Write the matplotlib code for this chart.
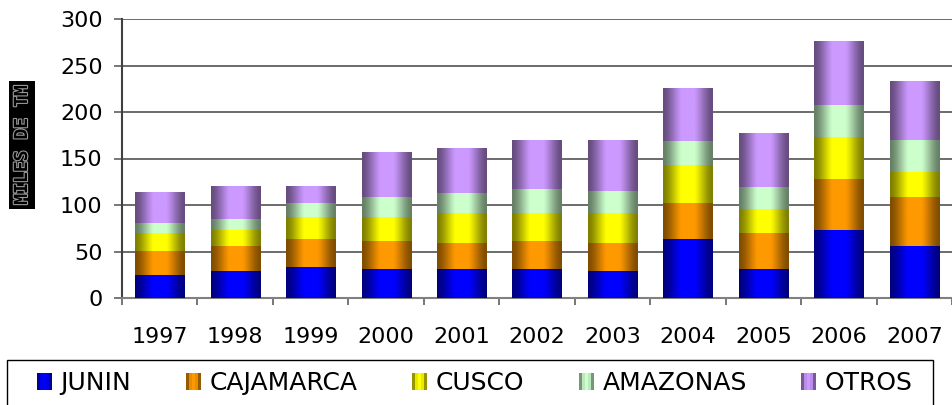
import numpy as np
import matplotlib
matplotlib.use("Agg")
import matplotlib.pyplot as plt
from matplotlib.patches import Rectangle
from matplotlib.legend_handler import HandlerBase
import matplotlib.patheffects as pe

# produccion por region, miles de TM
years = ['1997', '1998', '1999', '2000', '2001', '2002',
         '2003', '2004', '2005', '2006', '2007']
junin = [25, 29, 33, 31, 31, 31, 29, 63, 31, 73, 56]
cajamarca = [26, 27, 30, 30, 28, 30, 30, 39, 39, 55, 53]
cusco = [19, 17.5, 24, 26, 32, 30, 32, 41, 26, 45, 26]
amazonas = [11, 11.5, 15, 22, 22, 26, 24, 26, 23, 35, 35]
otros = [33, 35.5, 18, 48, 48, 53, 55, 57, 58, 68, 63]

series = [('JUNIN', junin, '#0000ff'),
          ('CAJAMARCA', cajamarca, '#ff9900'),
          ('CUSCO', cusco, '#ffff00'),
          ('AMAZONAS', amazonas, '#ccffcc'),
          ('OTROS', otros, '#cc99ff')]


def shade(t):
    # brillo tipo cilindro: oscuro en los bordes, claro al centro
    return 0.5 + 0.5 * np.minimum(1.0, 1.1 * np.sin(np.pi * t)) ** 1.6


def rgb(hexcol):
    return np.array(matplotlib.colors.to_rgb(hexcol))


class GradHandler(HandlerBase):
    def create_artists(self, legend, orig_handle, xdescent, ydescent,
                       width, height, fontsize, trans):
        base = rgb(orig_handle.get_facecolor())
        n = 5
        arts = []
        for i in range(n):
            f = shade((i + 0.5) / n)
            arts.append(Rectangle((-xdescent + i * width / n, -ydescent),
                                  width / n, height, facecolor=base * f,
                                  edgecolor='none', transform=trans))
        return arts


fig = plt.figure(figsize=(9.53, 4.05), dpi=100)
ax = fig.add_axes([122 / 953, 1 - 298 / 405, 830 / 953, 279 / 405])

x = np.arange(len(years))
width = 0.65
bottom = np.zeros(len(years))
prof = shade(np.linspace(0, 1, 64))
handles = []
for name, vals, col in series:
    vals = np.array(vals, dtype=float)
    bars = ax.bar(x, vals, width, bottom=bottom, color=col, edgecolor='none',
                  zorder=2, label=name)
    img = (rgb(col)[None, None, :] * prof[None, :, None]).clip(0, 1)
    for rect in bars:
        x0, y0 = rect.get_x(), rect.get_y()
        im = ax.imshow(img, extent=[x0, x0 + rect.get_width(), y0, y0 + rect.get_height()],
                       aspect='auto', interpolation='bilinear', zorder=3)
        im.set_clip_path(rect)
    handles.append(Rectangle((0, 0), 1, 1, facecolor=col))
    bottom += vals

ax.set_xlim(-0.5, len(years) - 0.5)
ax.set_ylim(0, 300)
ax.set_aspect('auto')
ax.set_yticks(np.arange(0, 301, 50))
ax.yaxis.grid(True, color='#606060', lw=1.3, zorder=0)
ax.set_axisbelow(True)

ax.set_xticks(x)
ax.set_xticklabels(years)
ax.set_xticks(np.arange(-0.5, len(years), 1), minor=True)
ax.tick_params(axis='x', which='major', length=0, pad=21, labelsize=16)
ax.tick_params(axis='x', which='minor', length=5, width=1.2, color='#606060')
ax.tick_params(axis='y', length=6, width=1.2, color='#606060', pad=8, labelsize=16)

for s in ['top', 'right']:
    ax.spines[s].set_visible(False)
ax.spines['left'].set_color('#404040')
ax.spines['left'].set_linewidth(1.5)
ax.spines['bottom'].set_color('#808080')
ax.spines['bottom'].set_linewidth(1.5)

fig.text(22 / 953, 1 - 145 / 405, 'MILES DE TM', rotation=90, ha='center', va='center',
         fontsize=13, family='DejaVu Sans Mono', weight='bold', color='black',
         path_effects=[pe.withStroke(linewidth=1.6, foreground='#9a9a9a')],
         bbox=dict(facecolor='black', edgecolor='none', pad=3))

# marco de la leyenda (se sale por abajo como en el original)
fig.patches.append(Rectangle((7 / 953, -0.05), 926 / 953, (405 - 360) / 405 + 0.05,
                             transform=fig.transFigure, facecolor='none',
                             edgecolor='black', lw=1.0))

leg = fig.legend(handles, [s[0] for s in series], handler_map={Rectangle: GradHandler()},
                 loc='center left', bbox_to_anchor=(37 / 953, 1 - 383 / 405, (913 - 37) / 953, 0),
                 mode='expand', ncol=5, fontsize=18, frameon=False,
                 handlelength=0.6, handleheight=0.65, handletextpad=0.35,
                 borderpad=0, borderaxespad=0)

fig.savefig('out.png', dpi=100)
